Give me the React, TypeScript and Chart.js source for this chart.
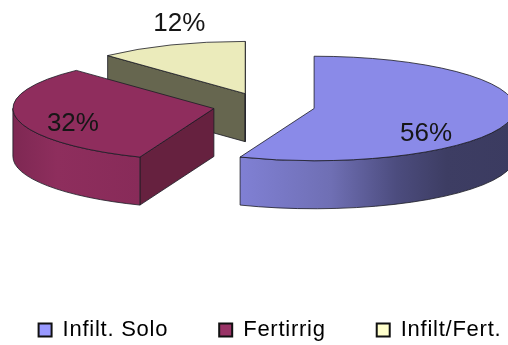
import { useEffect, useRef } from "react";
import { Chart, ArcElement, PieController, Legend } from "chart.js";

Chart.register(ArcElement, PieController, Legend);

const categories = ["Infilt. Solo", "Fertirrig", "Infilt/Fert."];
const shares = [56, 32, 12];
const tickLabels = ["56%", "32%", "12%"];

const topColors = ["#8a8ae8", "#8f2d5d", "#ebebbb"];
const keyColors = ["#9999ff", "#993366", "#ffffcc"];
const radialWallColors = ["#3d3d66", "#66213f", "#66664f"];
const curvedWallStops: [number, string][][] = [
  [[0, "#8080d4"], [0.33, "#6f6fb4"], [0.57, "#4c4c7e"], [0.75, "#3d3d63"], [1, "#3b3b60"]],
  [[0, "#7e2853"], [0.35, "#8e2e5d"], [1, "#882b59"]],
  [],
];

const CANVAS_W = 700;
const CANVAS_H = 353;
const SQUASH = 0.26;
const DEPTH = 48;
const EXPLODE = 51;
const RADIUS = 201;
const SHIFT_X = -6;
const SHIFT_Y = -28;
const LABEL_FONT = "26px 'Liberation Sans'";
const LABEL_NUDGE: [number, number][] = [[112, 25.5], [-141, 15], [-66, -70]];
const OUTLINE = "rgba(28,28,36,0.8)";

// Tilted, extruded pie: arcs come from the library, the plugin tilts them and adds the walls.
const tiltedPie = {
  id: "tiltedPie",
  beforeUpdate(chart: any) {
    chart.ctx.letterSpacing = "0.75px";
  },
  beforeDatasetDraw(chart: any) {
    const ctx: CanvasRenderingContext2D = chart.ctx;
    const arcs = chart.getDatasetMeta(0).data;
    const order = [2, 1, 0];
    for (const i of order) {
      const arc = arcs[i];
      const { startAngle: s, endAngle: e, outerRadius: r } = arc;
      const mid = (s + e) / 2;
      const cx = arc.x + SHIFT_X + Math.cos(mid) * EXPLODE;
      const cy = arc.y + SHIFT_Y + Math.sin(mid) * EXPLODE * SQUASH;
      const b = r * SQUASH;
      const edge = (t: number): [number, number] => [cx + Math.cos(t) * r, cy + Math.sin(t) * b];

      ctx.save();
      ctx.strokeStyle = OUTLINE;
      ctx.lineWidth = 1;

      // flat side faces that turn towards the viewer
      const faces = [Math.cos(s) < 0 ? s : null, Math.cos(e) > 0 ? e : null];
      for (const t of faces) {
        if (t === null) continue;
        const [px, py] = edge(t);
        ctx.beginPath();
        ctx.moveTo(cx, cy);
        ctx.lineTo(px, py);
        ctx.lineTo(px, py + DEPTH);
        ctx.lineTo(cx, cy + DEPTH);
        ctx.closePath();
        ctx.fillStyle = radialWallColors[i];
        ctx.fill();
        ctx.stroke();
      }

      // rounded outer wall along the front half of the ellipse
      const from = Math.max(s, 0);
      const to = Math.min(e, Math.PI);
      if (to > from) {
        const x0 = edge(to)[0];
        const x1 = from === 0 ? cx + r : edge(from)[0];
        const left = Math.min(x0, x1);
        const right = Math.max(x0, x1);
        const grad = ctx.createLinearGradient(left, 0, right, 0);
        for (const [p, c] of curvedWallStops[i]) grad.addColorStop(p, c);
        ctx.beginPath();
        ctx.ellipse(cx, cy, r, b, 0, from, to);
        ctx.ellipse(cx, cy + DEPTH, r, b, 0, to, from, true);
        ctx.closePath();
        ctx.fillStyle = grad;
        ctx.fill();
        ctx.stroke();
      }

      // top surface, drawn by the arc element itself
      ctx.save();
      ctx.translate(cx, cy);
      ctx.scale(1, SQUASH);
      ctx.translate(-arc.x, -arc.y);
      arc.draw(ctx);
      ctx.restore();

      ctx.beginPath();
      ctx.moveTo(cx, cy);
      ctx.ellipse(cx, cy, r, b, 0, s, e);
      ctx.closePath();
      ctx.stroke();
      ctx.restore();
    }
    return false;
  },
  afterDatasetsDraw(chart: any) {
    const ctx: CanvasRenderingContext2D = chart.ctx;
    const arcs = chart.getDatasetMeta(0).data;
    ctx.save();
    ctx.letterSpacing = "0px";
    ctx.font = LABEL_FONT;
    ctx.fillStyle = "#161616";
    ctx.textAlign = "center";
    ctx.textBaseline = "middle";
    arcs.forEach((arc: any, i: number) => {
      const mid = (arc.startAngle + arc.endAngle) / 2;
      const cx = arc.x + SHIFT_X + Math.cos(mid) * EXPLODE;
      const cy = arc.y + SHIFT_Y + Math.sin(mid) * EXPLODE * SQUASH;
      ctx.fillText(tickLabels[i], cx + LABEL_NUDGE[i][0], cy + LABEL_NUDGE[i][1]);
    });
    ctx.restore();
  },
};

export default function App() {
  const ref = useRef<HTMLCanvasElement>(null);
  useEffect(() => {
    const chart = new Chart(ref.current!, {
      type: "pie",
      data: {
        labels: categories,
        datasets: [{ data: shares, backgroundColor: topColors, borderWidth: 0 }],
      },
      options: {
        responsive: false,
        animation: false,
        radius: RADIUS,
        layout: { padding: { bottom: 2 } },
        plugins: {
          tooltip: { enabled: false },
          legend: {
            position: "bottom",
            labels: {
              boxWidth: 13,
              boxHeight: 13,
              padding: 51,
              color: "#111",
              font: { family: "'Liberation Sans'", size: 22 },
              generateLabels: () =>
                categories.map((text, i) => ({
                  text,
                  fillStyle: keyColors[i],
                  strokeStyle: "#111",
                  lineWidth: 2,
                  hidden: false,
                  index: i,
                })),
            },
          },
        },
      } as any,
      plugins: [tiltedPie],
    });
    return () => chart.destroy();
  }, []);
  return (
    <div
      style={{ position: "absolute", left: 0, top: 0, width: 508, height: 345, overflow: "hidden" }}
    >
      <canvas
        ref={ref}
        width={CANVAS_W}
        height={CANVAS_H}
        style={{ position: "absolute", left: 270 - CANVAS_W / 2, top: 0, display: "block" }}
      />
    </div>
  );
}
